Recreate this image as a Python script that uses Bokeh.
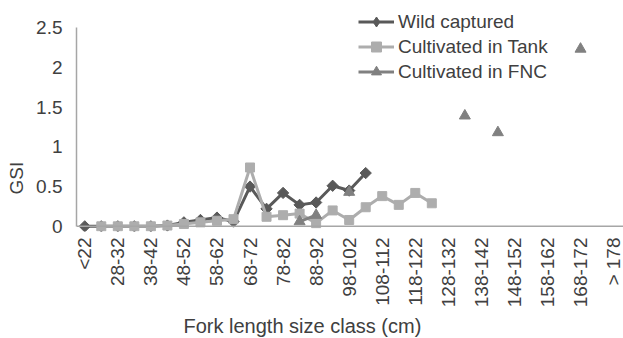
import math
from bokeh.plotting import figure
from bokeh.models import (Range1d, FixedTicker, NumeralTickFormatter, Span,
                          Legend, LegendItem, Title)
from bokeh.embed import file_html
from bokeh.resources import INLINE

NaN = float("nan")

categories = ["<22", "23-27", "28-32", "33-37", "38-42", "43-47", "48-52", "53-57",
              "58-62", "63-67", "68-72", "73-77", "78-82", "83-87", "88-92", "93-97",
              "98-102", "103-107", "108-112", "113-117", "118-122", "123-127",
              "128-132", "133-137", "138-142", "143-147", "148-152", "153-157",
              "158-162", "163-167", "168-172", "173-177", "> 178"]

wild = [0, 0, 0, 0, 0, 0.01, 0.05, 0.08, 0.11, 0.06, 0.50, 0.22, 0.42, 0.27, 0.30,
        0.51, 0.45, 0.67, NaN, NaN, NaN, NaN, NaN, NaN, NaN, NaN, NaN, NaN, NaN, NaN,
        NaN, NaN, NaN]
tank = [NaN, 0, 0, 0, 0, 0.01, 0.03, 0.05, 0.07, 0.09, 0.74, 0.12, 0.14, 0.16, 0.04,
        0.20, 0.08, 0.24, 0.38, 0.27, 0.42, 0.29, NaN, NaN, NaN, NaN, NaN, NaN, NaN,
        NaN, NaN, NaN, NaN]
fnc = [NaN, NaN, NaN, NaN, NaN, NaN, NaN, NaN, NaN, NaN, NaN, NaN, NaN, 0.06, 0.14,
       NaN, 0.43, NaN, NaN, NaN, NaN, NaN, NaN, 1.39, NaN, 1.18, NaN, NaN, NaN, NaN,
       2.23, NaN, NaN]

y_ticks = [0, 0.5, 1, 1.5, 2, 2.5]
x_title = "Fork length size class (cm)"
y_title = "GSI"
series_names = ["Wild captured", "Cultivated in Tank", "Cultivated in FNC"]

FONT = "Liberation Sans"
TXT = "#404040"
AX = "#a6a6a6"
C_WILD = "#595959"
C_TANK = "#adadad"
C_FNC = "#808080"

x = list(range(len(categories)))

p = figure(width=623, height=338,
           x_range=Range1d(-0.5, 32.6), y_range=Range1d(-0.065, 2.84),
           output_backend="svg", toolbar_location=None,
           min_border_left=75, min_border_right=0, min_border_top=0,
           min_border_bottom=107)
p.outline_line_color = None
p.grid.visible = False
p.background_fill_color = "white"

def no_ticks(ax):
    ax.major_tick_out = 0
    ax.major_tick_in = 0
    ax.minor_tick_out = 0
    ax.minor_tick_in = 0

# y axis
ya = p.yaxis[0]
ya.ticker = FixedTicker(ticks=y_ticks)
ya.formatter = NumeralTickFormatter(format="0.[0]")
ya.bounds = (0, 2.5)
ya.axis_line_color = AX
ya.axis_line_width = 1.5
no_ticks(ya)
ya.major_label_standoff = 14
ya.major_label_text_font = FONT
ya.major_label_text_font_size = "19px"
ya.major_label_text_color = TXT

p.add_layout(Title(text=y_title, align="left", offset=37, vertical_align="top",
                   standoff=10, text_font=FONT, text_font_size="19px",
                   text_font_style="normal", text_color=TXT), "left")

# x axis
xa = p.xaxis[0]
even = [i for i in x if i % 2 == 0]
xa.ticker = FixedTicker(ticks=even)
xa.major_label_overrides = {i: categories[i] for i in even}
xa.major_label_orientation = math.pi / 2
xa.axis_line_color = None
no_ticks(xa)
xa.major_label_standoff = 6
xa.major_label_text_font = FONT
xa.major_label_text_font_size = "19px"
xa.major_label_text_color = TXT

p.add_layout(Title(text=x_title, align="left", offset=107, vertical_align="bottom",
                   standoff=4, text_font=FONT, text_font_size="20px",
                   text_font_style="normal", text_color=TXT), "below")

p.add_layout(Span(location=0, dimension="width", line_color=AX, line_width=1.5))

r1 = p.line(x, wild, line_color=C_WILD, line_width=3)
s1 = p.scatter(x, wild, marker="square", angle=math.pi / 4, size=8,
               fill_color=C_WILD, line_color=C_WILD)
r2 = p.line(x, tank, line_color=C_TANK, line_width=3)
s2 = p.scatter(x, tank, marker="square", size=9, fill_color=C_TANK, line_color=C_TANK)
r3 = p.line(x, fnc, line_color=C_FNC, line_width=3)
s3 = p.scatter(x, fnc, marker="triangle", size=11, fill_color=C_FNC, line_color=C_FNC)

# legend-only diamond glyph for the wild series (its one point lies off the frame)
s1_leg = p.scatter(x=[-10], y=[-10], marker="diamond", size=11,
                   fill_color=C_WILD, line_color=C_WILD)

legend = Legend(items=[LegendItem(label=series_names[0], renderers=[r1, s1_leg]),
                       LegendItem(label=series_names[1], renderers=[r2, s2]),
                       LegendItem(label=series_names[2], renderers=[r3, s3])],
                location=(282, 147))
legend.glyph_width = 36
legend.glyph_height = 25
legend.label_height = 25
legend.spacing = 0
legend.padding = 0
legend.margin = 0
legend.label_standoff = 4
legend.border_line_color = None
legend.background_fill_alpha = 0
legend.label_text_font = FONT
legend.label_text_font_size = "19px"
legend.label_text_color = TXT
p.add_layout(legend)

open("out.html", "w").write(file_html(p, INLINE))
